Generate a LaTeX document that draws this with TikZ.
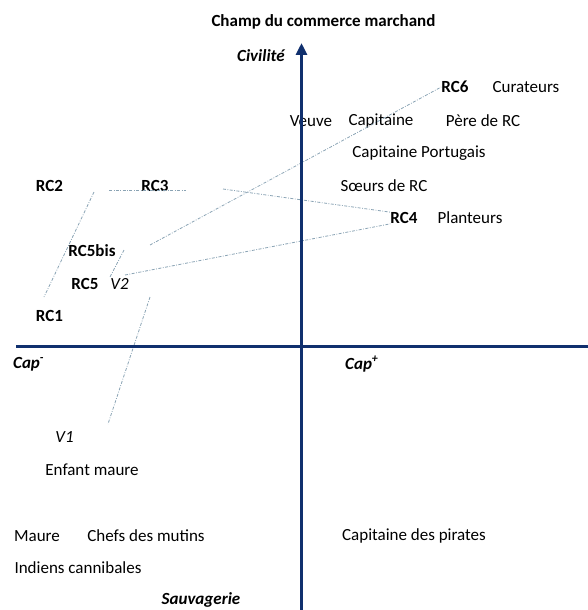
\documentclass[tikz,border=0pt]{standalone}
\usepackage{fontspec}
\setmainfont{Carlito}
\usetikzlibrary{arrows.meta}
\definecolor{axisblue}{HTML}{10306E}
\definecolor{linkgray}{HTML}{8AA3B4}

\begin{document}
\begin{tikzpicture}[x=1pt,y=-1pt,
  lab/.style={font=\fontsize{17}{20}\selectfont, inner sep=0pt},
  rc/.style={lab, font=\fontsize{17}{20}\selectfont\bfseries},
  pole/.style={lab, font=\fontsize{17}{20}\selectfont\bfseries\itshape},
  vv/.style={lab, font=\fontsize{17}{20}\selectfont\itshape},
  link/.style={linkgray, line width=0.8pt, dash pattern=on 3pt off 1.5pt on 0.8pt off 1.5pt}]

\useasboundingbox (0,0) rectangle (588,610);

% poles
\node[rc] (title) at (323.5,22) {Champ du commerce marchand};
\node[pole] (civ) at (261,56) {Civilité};
\node[pole] (sauv) at (201,600) {Sauvagerie};
\node[pole,anchor=west] (capm) at (13,364) {Cap\textsuperscript{-}};
\node[pole,anchor=west] (capp) at (345,364) {Cap\textsuperscript{+}};

% -------- upper left --------
\node[rc] (rc2) at (49.5,186) {RC2};
\node[rc] (rc3) at (155,186) {RC3};
\node[rc] (rc5b) at (92,251) {RC5bis};
\node[rc] (rc5) at (85,284) {RC5};
\node[vv] (v2) at (119.5,284) {V2};
\node[rc] (rc1) at (49.5,316) {RC1};

% -------- upper right --------
\node[rc] (rc6) at (455,87) {RC6};
\node[lab] (cur) at (526,87) {Curateurs};
\node[lab] (veuve) at (311,121) {Veuve};
\node[lab] (capit) at (381,121) {Capitaine};
\node[lab] (pere) at (483,121) {Père de RC};
\node[lab] (capport) at (419,153) {Capitaine Portugais};
\node[lab] (soeurs) at (384,186) {Sœurs de RC};
\node[rc] (rc4) at (404,218) {RC4};
\node[lab] (plant) at (470,218) {Planteurs};

% -------- lower half --------
\node[vv] (v1) at (64.5,437) {V1};
\node[lab] (enfant) at (92,470) {Enfant maure};
\node[lab] (maure) at (37,536) {Maure};
\node[lab] (chefs) at (146,536) {Chefs des mutins};
\node[lab] (pirates) at (414,536) {Capitaine des pirates};
\node[lab] (indiens) at (78,568) {Indiens cannibales};

% trajectories
\coordinate (a1) at (94,192);
\coordinate (a2) at (44,297);
\coordinate (b1) at (109,190);
\coordinate (b2) at (186,190);
\coordinate (c1) at (223,189);
\coordinate (d1) at (150,245);
\coordinate (e1) at (125,275);
\coordinate (f1) at (124,250);
\coordinate (f2) at (110,277);
\coordinate (g1) at (150,297);
\coordinate (g2) at (108,424);

\draw[link] (a1) -- (a2);
\draw[link] (b1) -- (b2);
\draw[link] (c1) -- (rc4.north west);
\draw[link] (d1) -- (rc6.west);
\draw[link] (e1) -- (rc4.south west);
\draw[link] (f1) -- (f2);
\draw[link] (g1) -- (g2);

% axes
\coordinate (xl) at (16,346);
\coordinate (xr) at (588,346);
\coordinate (yb) at (301.5,610);
\coordinate (yt) at (301.5,43);
\draw[axisblue, line width=3pt] (xl) -- (xr);
\draw[axisblue, line width=3pt, -{Triangle[width=11pt,length=12pt]}] (yb) -- (yt);

\end{tikzpicture}
\end{document}
